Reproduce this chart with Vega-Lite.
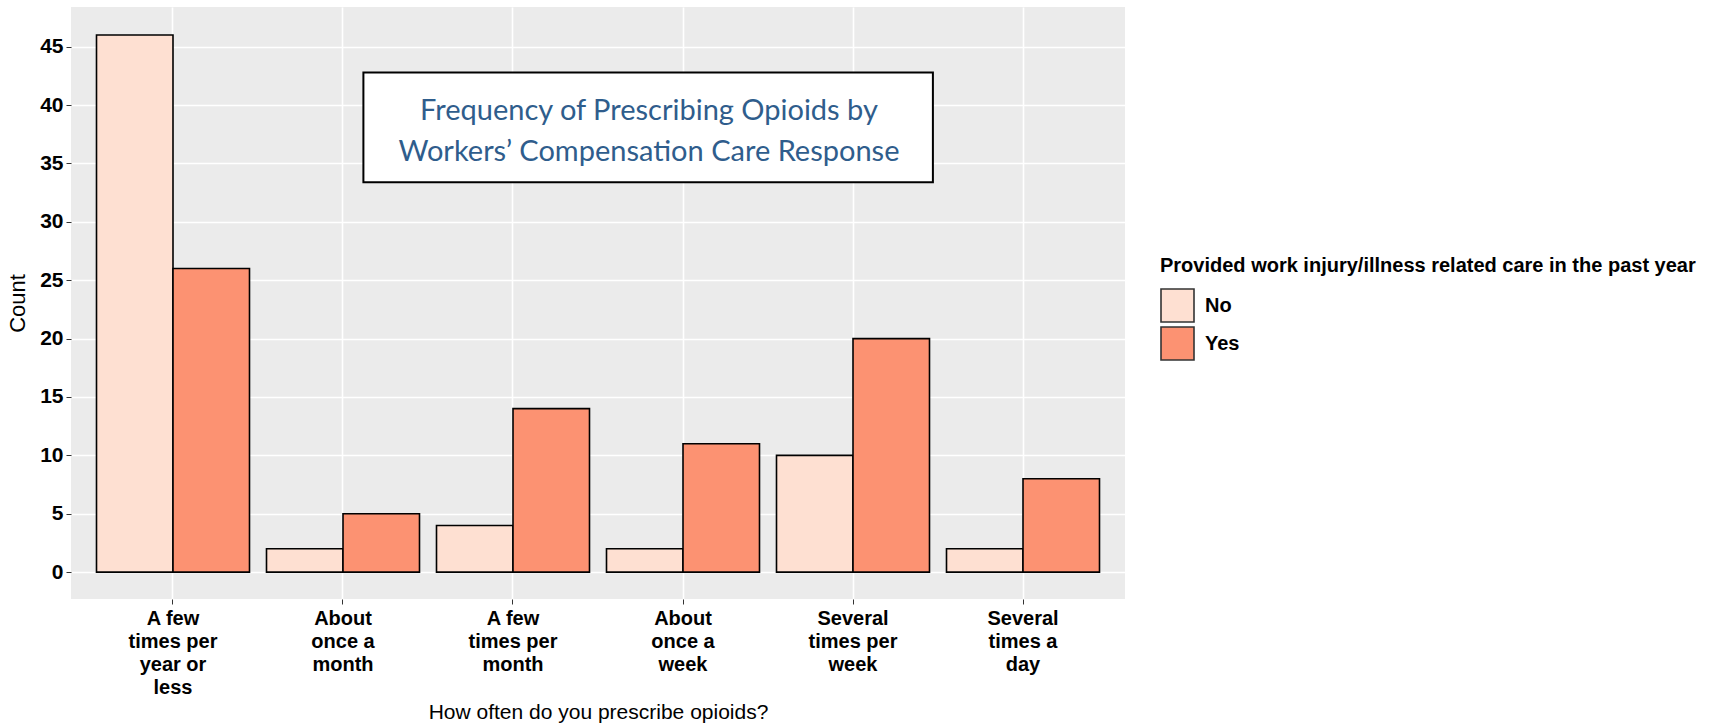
{
  "$schema": "https://vega.github.io/schema/vega-lite/v6.json",
  "autosize": "none",
  "width": 1054,
  "height": 592,
  "padding": {"left": 71, "top": 7, "right": 596, "bottom": 128},
  "background": "white",
  "config": {
    "view": {"fill": "#EBEBEB", "stroke": null},
    "font": "Liberation Sans"
  },
  "datasets": {
    "counts": [
      {"freq": "A few times per year or less", "care": "No", "count": 46},
      {"freq": "A few times per year or less", "care": "Yes", "count": 26},
      {"freq": "About once a month", "care": "No", "count": 2},
      {"freq": "About once a month", "care": "Yes", "count": 5},
      {"freq": "A few times per month", "care": "No", "count": 4},
      {"freq": "A few times per month", "care": "Yes", "count": 14},
      {"freq": "About once a week", "care": "No", "count": 2},
      {"freq": "About once a week", "care": "Yes", "count": 11},
      {"freq": "Several times per week", "care": "No", "count": 10},
      {"freq": "Several times per week", "care": "Yes", "count": 20},
      {"freq": "Several times a day", "care": "No", "count": 2},
      {"freq": "Several times a day", "care": "Yes", "count": 8}
    ],
    "note": [
      {"from": 1.72, "to": 5.07, "low": 33.4, "high": 42.8, "mid": 3.4, "ytop": 39.5,
       "label": "Frequency of Prescribing Opioids by\nWorkers’ Compensation Care Response"}
    ]
  },
  "resolve": {"scale": {"x": "independent"}},
  "layer": [
    {
      "data": {"name": "counts"},
      "mark": {"type": "bar", "stroke": "black", "strokeWidth": 1.6},
      "encoding": {
        "x": {
          "field": "freq",
          "type": "nominal",
          "sort": null,
          "scale": {"paddingInner": 0.1, "paddingOuter": 0.15},
          "axis": {
            "title": "How often do you prescribe opioids?",
            "titleFontSize": 21,
            "titleFontWeight": "normal",
            "titleColor": "black",
            "titlePadding": 4,
            "bandPosition": 0.5,
            "labelAngle": 0,
            "labelFontSize": 20,
            "labelFontWeight": "bold",
            "labelColor": "black",
            "labelLineHeight": 23,
            "labelPadding": 4,
            "labelExpr": "{'A few times per year or less': ['A few', 'times per', 'year or', 'less'], 'About once a month': ['About', 'once a', 'month'], 'A few times per month': ['A few', 'times per', 'month'], 'About once a week': ['About', 'once a', 'week'], 'Several times per week': ['Several', 'times per', 'week'], 'Several times a day': ['Several', 'times a', 'day']}[datum.label]",
            "grid": true,
            "gridColor": "white",
            "gridWidth": 1.6,
            "domain": false,
            "tickColor": "#333333",
            "tickSize": 5
          }
        },
        "xOffset": {"field": "care", "type": "nominal", "scale": {"paddingInner": 0, "paddingOuter": 0}},
        "y": {
          "field": "count",
          "type": "quantitative",
          "scale": {"domain": [-2.3, 48.4], "nice": false, "zero": false},
          "axis": {
            "title": "Count",
            "titleFontSize": 22,
            "titleFontWeight": "normal",
            "titleColor": "black",
            "titlePadding": 10,
            "values": [0, 2.5, 5, 7.5, 10, 12.5, 15, 17.5, 20, 22.5, 25, 27.5, 30, 32.5, 35, 37.5, 40, 42.5, 45, 47.5],
            "labelExpr": "datum.value % 5 === 0 ? datum.label : ''",
            "labelFontSize": 21,
            "labelFontWeight": "bold",
            "labelColor": "black",
            "labelPadding": 3,
            "grid": true,
            "gridColor": "white",
            "gridWidth": {"condition": {"test": "datum.value % 5 !== 0", "value": 0.8}, "value": 1.6},
            "domain": false,
            "tickColor": "#333333",
            "tickSize": 5,
            "tickOpacity": {"condition": {"test": "datum.value % 5 !== 0", "value": 0}, "value": 1}
          }
        },
        "fill": {
          "field": "care",
          "type": "nominal",
          "scale": {"domain": ["No", "Yes"], "range": ["#FEE0D2", "#FC9272"]},
          "legend": {
            "title": "Provided work injury/illness related care in the past year",
            "titleFontSize": 20,
            "titleFontWeight": "bold",
            "titleColor": "black",
            "titleLimit": 600,
            "titlePadding": 12,
            "labelFontSize": 20,
            "labelFontWeight": "bold",
            "labelColor": "black",
            "symbolType": "square",
            "symbolSize": 1089,
            "symbolStrokeColor": "#333333",
            "symbolStrokeWidth": 1.6,
            "rowPadding": -3,
            "labelOffset": 10,
            "orient": "none",
            "legendX": 1089,
            "legendY": 249
          }
        }
      }
    },
    {
      "data": {"name": "note"},
      "encoding": {
        "x": {"type": "quantitative", "scale": {"domain": [0, 6.2], "nice": false, "zero": false}, "axis": null}
      },
      "layer": [
        {
          "mark": {"type": "rect", "fill": "white", "stroke": "black", "strokeWidth": 2},
          "encoding": {
            "x": {"field": "from", "type": "quantitative"},
            "x2": {"field": "to"},
            "y": {"field": "low", "type": "quantitative"},
            "y2": {"field": "high"}
          }
        },
        {
          "mark": {"type": "text", "font": "Lato", "fontSize": 29, "color": "#2F5D8C", "lineBreak": "\n", "lineHeight": 41, "baseline": "middle", "align": "center"},
          "encoding": {
            "x": {"field": "mid", "type": "quantitative"},
            "y": {"field": "ytop", "type": "quantitative"},
            "text": {"field": "label"}
          }
        }
      ]
    }
  ]
}
